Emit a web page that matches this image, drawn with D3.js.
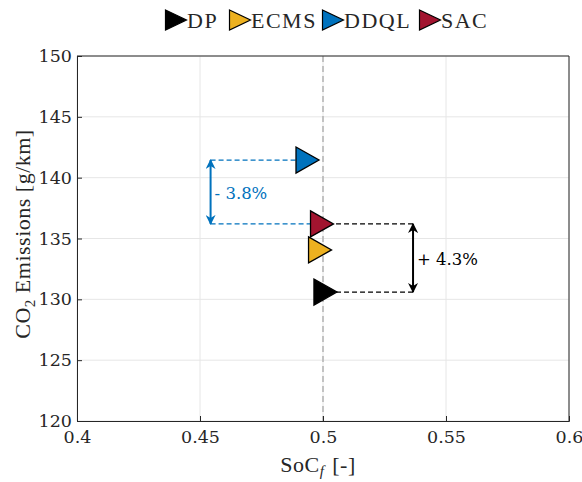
<!DOCTYPE html>
<html>
<head>
<meta charset="utf-8">
<script src="https://cdn.jsdelivr.net/npm/d3@7"></script>
<style>
body { margin: 0; background: #fff; }
svg text { font-family: "Liberation Serif", serif; fill: #262626; }
svg text.num { font-family: "DejaVu Serif", serif; }
</style>
</head>
<body>
<div id="chart"></div>
<script>
// strategies and their final SoC / emissions
var methods = ["DP", "ECMS", "DDQL", "SAC"];
var colors = ["#000000", "#EDB120", "#0072BD", "#A2142F"];
var socFinal = [0.501, 0.4988, 0.4937, 0.4996];
var co2 = [130.6, 134.06, 141.45, 136.2];

var xTicks = [0.4, 0.45, 0.5, 0.55, 0.6];
var yTicks = [120, 125, 130, 135, 140, 145, 150];

// annotations: x of arrow, from index, to index, label
var notes = [
    {x: 0.4543, from: 2, to: 3, label: "- 3.8%", color: "#0072BD"},
    {x: 0.5366, from: 0, to: 3, label: "+ 4.3%", color: "#000000"}
];

var width = 582, height = 482;
var padL = 77, padR = 569, padT = 56, padB = 421;

var svg = d3.select("#chart").append("svg")
    .attr("width", width)
    .attr("height", height);

var x = d3.scaleLinear().domain([0.4, 0.6]).range([padL, padR]);
var y = d3.scaleLinear().domain([120, 150]).range([padB, padT]);

// grid
svg.append("g").selectAll("line").data(xTicks).join("line")
    .attr("x1", d => x(d)).attr("x2", d => x(d))
    .attr("y1", padT).attr("y2", padB)
    .attr("stroke", "#e6e6e6").attr("stroke-width", 1);
svg.append("g").selectAll("line").data(yTicks).join("line")
    .attr("x1", padL).attr("x2", padR)
    .attr("y1", d => y(d)).attr("y2", d => y(d))
    .attr("stroke", "#e6e6e6").attr("stroke-width", 1);

// reference line at SoC = 0.5
svg.append("line")
    .attr("x1", x(0.5)).attr("x2", x(0.5))
    .attr("y1", padT).attr("y2", padB)
    .attr("stroke", "#b3b3b3").attr("stroke-width", 1.5)
    .attr("stroke-dasharray", "6,4");

// axes
var xAxis = d3.axisBottom(x).tickValues(xTicks).tickSize(-5).tickPadding(7)
    .tickFormat(d => String(d));
var yAxis = d3.axisLeft(y).tickValues(yTicks).tickSize(-5).tickPadding(5);

var gx = svg.append("g").attr("transform", "translate(0," + padB + ")").call(xAxis);
var gy = svg.append("g").attr("transform", "translate(" + padL + ",0)").call(yAxis);
[gx, gy].forEach(function(g) {
    g.attr("font-family", null).attr("font-size", null);
    g.select(".domain").attr("stroke", "#262626");
    g.selectAll(".tick line").attr("stroke", "#262626");
    g.selectAll(".tick text").attr("class", "num")
        .style("font-size", "17.5px").style("fill", "#262626");
});
gx.selectAll(".tick text").attr("dy", "0.85em");

// top and right box lines
svg.append("line").attr("x1", padL).attr("x2", padR).attr("y1", padT).attr("y2", padT)
    .attr("stroke", "#262626");
svg.append("line").attr("x1", padR).attr("x2", padR).attr("y1", padT).attr("y2", padB)
    .attr("stroke", "#262626");

// axis labels
svg.append("text")
    .attr("x", 318).attr("y", 472)
    .attr("text-anchor", "middle").style("font-size", "22px")
    .style("letter-spacing", "0.5px")
    .html('SoC<tspan font-style="italic" font-size="15" dy="4">f</tspan><tspan dy="-4" dx="8">[-]</tspan>');

svg.append("text")
    .attr("transform", "translate(30,234) rotate(-90)")
    .attr("text-anchor", "middle").style("font-size", "22px")
    .style("letter-spacing", "0.5px")
    .html('CO<tspan font-size="15" dy="5">2</tspan><tspan dy="-5"> Emissions [g/km]</tspan>');

// annotations
var arrowDefs = svg.append("defs");
notes.forEach(function(n, i) {
    arrowDefs.append("marker")
        .attr("id", "ah" + i)
        .attr("viewBox", "0 0 10 10")
        .attr("refX", 9).attr("refY", 5)
        .attr("markerWidth", 10).attr("markerHeight", 10)
        .attr("markerUnits", "userSpaceOnUse")
        .attr("orient", "auto-start-reverse")
        .append("path").attr("d", "M0,0 L10,5 L0,10 L3,5 Z").attr("fill", n.color);

    var g = svg.append("g");
    [n.from, n.to].forEach(function(k) {
        g.append("line")
            .attr("x1", x(n.x)).attr("x2", x(socFinal[k]))
            .attr("y1", y(co2[k])).attr("y2", y(co2[k]))
            .attr("stroke", n.color).attr("stroke-width", 1.2)
            .attr("stroke-dasharray", "5,3");
    });
    g.append("line")
        .attr("x1", x(n.x)).attr("x2", x(n.x))
        .attr("y1", y(co2[n.from])).attr("y2", y(co2[n.to]))
        .attr("stroke", n.color).attr("stroke-width", 2)
        .attr("marker-start", "url(#ah" + i + ")")
        .attr("marker-end", "url(#ah" + i + ")");
    g.append("text")
        .attr("class", "num")
        .attr("x", x(n.x) + 4)
        .attr("y", (y(co2[n.from]) + y(co2[n.to])) / 2 + 7)
        .style("font-size", "16.5px")
        .style("fill", n.color)
        .text(n.label);
});

// right-pointing triangle
function tri(w, h) {
    return "M" + (-w / 2) + "," + (-h / 2) + " L" + (w / 2) + ",0 L" + (-w / 2) + "," + (h / 2) + " Z";
}

// markers, drawn in order DP, ECMS, DDQL, SAC
svg.append("g").selectAll("path").data(methods).join("path")
    .attr("transform", (d, i) => "translate(" + x(socFinal[i]) + "," + y(co2[i]) + ")")
    .attr("d", tri(23, 26))
    .attr("fill", (d, i) => colors[i])
    .attr("stroke", "#000").attr("stroke-width", 1.3)
    .attr("stroke-linejoin", "miter");

// legend
var legX = [176, 240, 333, 430];
var leg = svg.append("g");
methods.forEach(function(m, i) {
    leg.append("path")
        .attr("transform", "translate(" + legX[i] + ",20)")
        .attr("d", tri(21, 20))
        .attr("fill", colors[i])
        .attr("stroke", "#000").attr("stroke-width", 1.2);
    leg.append("text")
        .attr("x", legX[i] + 11).attr("y", 28)
        .style("font-size", "22px")
        .style("letter-spacing", "1.5px")
        .text(m);
});
</script>
</body>
</html>
